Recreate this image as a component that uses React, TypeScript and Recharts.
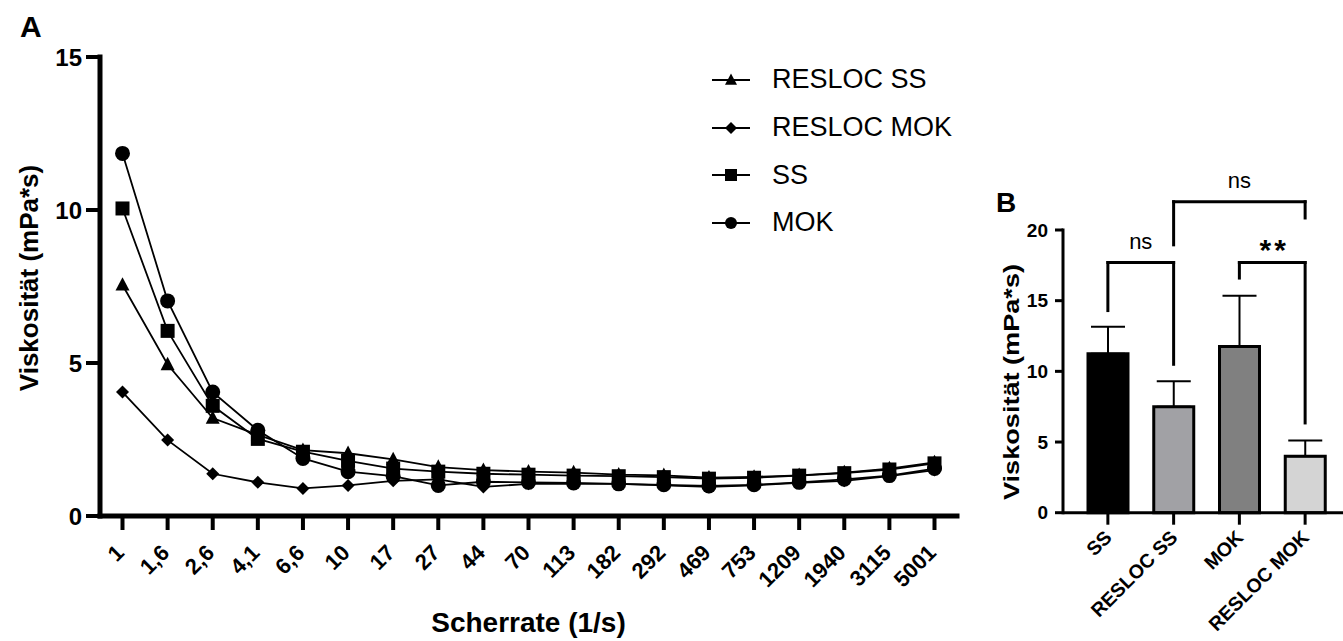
import React from 'react';
import {
  LineChart,
  Line,
  XAxis,
  YAxis,
  Legend,
  BarChart,
  Bar,
  Cell,
  ErrorBar,
  ReferenceLine,
} from 'recharts';

const FONT = '"Liberation Sans", Arial, Helvetica, sans-serif';

// ---- Panel A: viscosity over shear rate ----
const shearRates = ['1', '1,6', '2,6', '4,1', '6,6', '10', '17', '27', '44', '70', '113', '182', '292', '469', '753', '1209', '1940', '3115', '5001'];
const reslocSS = [7.55, 4.95, 3.2, 2.65, 2.15, 2.05, 1.85, 1.6, 1.5, 1.45, 1.42, 1.35, 1.33, 1.25, 1.28, 1.33, 1.42, 1.55, 1.75];
const reslocMOK = [4.05, 2.48, 1.38, 1.1, 0.9, 1.0, 1.15, 1.2, 0.95, 1.05, 1.05, 1.05, 1.0, 0.95, 1.0, 1.08, 1.15, 1.3, 1.5];
const ss = [10.05, 6.05, 3.6, 2.52, 2.1, 1.8, 1.55, 1.45, 1.38, 1.35, 1.32, 1.3, 1.27, 1.22, 1.25, 1.32, 1.4, 1.52, 1.72];
const mok = [11.85, 7.03, 4.05, 2.8, 1.88, 1.45, 1.3, 1.0, 1.12, 1.1, 1.08, 1.05, 1.02, 0.98, 1.02, 1.1, 1.2, 1.32, 1.55];
const viscosityTicksA = [0, 5, 10, 15];

// ---- Panel B: mean viscosity per group ----
const groups = ['SS', 'RESLOC SS', 'MOK', 'RESLOC MOK'];
const groupMeans = [11.25, 7.5, 11.75, 4.0];
const groupSD = [1.9, 1.8, 3.6, 1.1];
const groupFills = ['#000000', '#a1a1a5', '#808080', '#d4d4d4'];
const viscosityTicksB = [0, 5, 10, 15, 20];

// significance brackets: leg ends and bracket height in axis units
const brackets = [
  { from: 'SS', to: 'RESLOC SS', top: 17.7, fromEnd: 14.3, toEnd: 10.5, text: 'ns' },
  { from: 'RESLOC SS', to: 'RESLOC MOK', top: 22.0, fromEnd: 18.95, toEnd: 20.85, text: 'ns' },
  { from: 'MOK', to: 'RESLOC MOK', top: 17.7, fromEnd: 16.6, toEnd: 6.35, text: '**' },
];

const lineData = shearRates.map((rate, i) => ({
  rate,
  reslocSS: reslocSS[i],
  reslocMOK: reslocMOK[i],
  ss: ss[i],
  mok: mok[i],
}));

const barData = groups.map((name, i) => ({
  name,
  mean: groupMeans[i],
  err: [0, groupSD[i]],
  fill: groupFills[i],
}));

type Shape = 'triangle' | 'diamond' | 'square' | 'circle';

const Marker = ({ cx, cy, shape, size }: { cx: number; cy: number; shape: Shape; size: number }) => {
  const h = size / 2;
  if (cx == null || cy == null) return null;
  switch (shape) {
    case 'circle':
      return <circle cx={cx} cy={cy} r={h} fill="#000" />;
    case 'square':
      return <rect x={cx - h} y={cy - h} width={size} height={size} fill="#000" />;
    case 'triangle':
      return <path d={`M${cx},${cy - size * 0.55} L${cx + h},${cy + size * 0.4} L${cx - h},${cy + size * 0.4} Z`} fill="#000" />;
    case 'diamond':
    default:
      return <path d={`M${cx},${cy - h} L${cx + h},${cy} L${cx},${cy + h} L${cx - h},${cy} Z`} fill="#000" />;
  }
};

const makeDot = (shape: Shape, size: number) => (p: any) => (
  <g key={`${shape}-${p.index}`}>
    <Marker cx={p.cx} cy={p.cy} shape={shape} size={size} />
  </g>
);

const seriesA: { key: string; name: string; shape: Shape; size: number }[] = [
  { key: 'reslocSS', name: 'RESLOC SS', shape: 'triangle', size: 14 },
  { key: 'reslocMOK', name: 'RESLOC MOK', shape: 'diamond', size: 13 },
  { key: 'ss', name: 'SS', shape: 'square', size: 14 },
  { key: 'mok', name: 'MOK', shape: 'circle', size: 15 },
];

const renderLegend = () => (
  <div style={{ fontFamily: FONT, fontSize: 27, color: '#000' }}>
    {seriesA.map((s) => (
      <div key={s.key} style={{ display: 'flex', alignItems: 'center', height: 47.7 }}>
        <svg width={40} height={20} style={{ display: 'block' }}>
          <line x1={1} y1={10} x2={39} y2={10} stroke="#000" strokeWidth={2} />
          <Marker cx={20} cy={10} shape={s.shape} size={12} />
        </svg>
        <span style={{ marginLeft: 21, lineHeight: 1 }}>{s.name}</span>
      </div>
    ))}
  </div>
);

const RateTick = (props: any) => {
  const { x, y, payload } = props;
  const tx = x + 3;
  const ty = y + 22;
  return (
    <text x={tx} y={ty} transform={`rotate(-45 ${tx} ${ty})`} textAnchor="end" fontFamily={FONT} fontSize={22} fontWeight={700} fill="#000">
      {payload.value}
    </text>
  );
};

const GroupTick = (props: any) => {
  const { x, y, payload } = props;
  const tx = x + 5;
  const ty = y + 12;
  return (
    <text x={tx} y={ty} transform={`rotate(-45 ${tx} ${ty})`} textAnchor="end" fontFamily={FONT} fontSize={19.5} fontWeight={700} fill="#000">
      {payload.value}
    </text>
  );
};

const yLabelA = () => (
  <text x={29} y={278} transform="rotate(-90 29 278)" textAnchor="middle" dominantBaseline="central" fontFamily={FONT} fontSize={26} fontWeight={700} fill="#000">
    Viskosität (mPa*s)
  </text>
);

const xLabelA = () => (
  <text x={528.5} y={632} textAnchor="middle" fontFamily={FONT} fontSize={28} fontWeight={700} fill="#000">
    Scherrate (1/s)
  </text>
);

const yLabelB = () => (
  <text x={31} y={382} transform="rotate(-90 31 382)" textAnchor="middle" dominantBaseline="central" fontFamily={FONT} fontSize={22} fontWeight={700} fill="#000" textLength={236} lengthAdjust="spacingAndGlyphs">
    Viskosität (mPa*s)
  </text>
);

const bracketLabel = (text: string) => (props: any) => {
  const vb = props.viewBox || {};
  const cx = (vb.x ?? 0) + (vb.width ?? 0) / 2;
  const y = vb.y ?? 0;
  const star = text === '**';
  return (
    <text x={cx + (star ? 2 : 0)} y={star ? y - 3 : y - 14} textAnchor="middle" fontFamily={FONT} fontSize={star ? 30 : 22} fontWeight={star ? 700 : 400} letterSpacing={star ? 3 : 0} fill="#000">
      {text}
    </text>
  );
};

export default function App() {
  return (
    <div style={{ position: 'absolute', left: 0, top: 0, width: 1343, height: 641, background: '#fff', overflow: 'hidden' }}>
      <div style={{ position: 'absolute', left: 0, top: 0 }}>
        <LineChart width={980} height={641} data={lineData} margin={{ top: 57, right: 23, bottom: 0, left: 0 }}>
          <XAxis
            dataKey="rate"
            height={125}
            padding={{ left: 22.5, right: 22.5 }}
            interval={0}
            axisLine={{ stroke: '#000', strokeWidth: 5, strokeLinecap: 'square' }}
            tickLine={{ stroke: '#000', strokeWidth: 4 }}
            tickSize={14}
            tickMargin={2}
            tick={<RateTick />}
            label={{ content: xLabelA }}
          />
          <YAxis
            width={100}
            domain={[0, 15]}
            ticks={viscosityTicksA}
            interval={0}
            axisLine={{ stroke: '#000', strokeWidth: 5, strokeLinecap: 'square' }}
            tickLine={{ stroke: '#000', strokeWidth: 4 }}
            tickSize={14}
            tickMargin={4}
            tick={{ fontSize: 24, fontWeight: 700, fill: '#000', fontFamily: FONT }}
            label={{ content: yLabelA }}
          />
          {seriesA.map((s) => (
            <Line
              key={s.key}
              dataKey={s.key}
              name={s.name}
              type="linear"
              stroke="#000"
              strokeWidth={1.8}
              dot={makeDot(s.shape, s.size)}
              activeDot={false}
              isAnimationActive={false}
            />
          ))}
          <Legend
            layout="vertical"
            align="center"
            verticalAlign="middle"
            content={renderLegend}
            wrapperStyle={{ left: 711, top: 56, width: 260 }}
          />
        </LineChart>
      </div>

      <div style={{ position: 'absolute', left: 980, top: 0 }}>
        <BarChart width={363} height={641} data={barData} margin={{ top: 230, right: 0, bottom: 0, left: 0 }}>
          <XAxis
            dataKey="name"
            height={128.3}
            padding={{ left: 12, right: 5 }}
            interval={0}
            axisLine={{ stroke: '#000', strokeWidth: 3 }}
            tickLine={{ stroke: '#000', strokeWidth: 3 }}
            tickSize={12}
            tickMargin={2}
            tick={<GroupTick />}
          />
          <YAxis
            width={83}
            domain={[0, 20]}
            ticks={viscosityTicksB}
            interval={0}
            axisLine={{ stroke: '#000', strokeWidth: 3, strokeLinecap: 'square' }}
            tickLine={{ stroke: '#000', strokeWidth: 3 }}
            tickSize={8}
            tickMargin={7}
            tick={{ fontSize: 19, fontWeight: 700, fill: '#000', fontFamily: FONT }}
            label={{ content: yLabelB }}
          />
          <Bar dataKey="mean" barSize={40} stroke="#000" strokeWidth={3} isAnimationActive={false}>
            {barData.map((d) => (
              <Cell key={d.name} fill={d.fill} />
            ))}
            <ErrorBar dataKey="err" direction="y" width={17} strokeWidth={2} stroke="#000" />
          </Bar>
          {brackets.flatMap((b, i) => [
            <ReferenceLine
              key={`h${i}`}
              segment={[{ x: b.from, y: b.top }, { x: b.to, y: b.top }]}
              stroke="#000"
              strokeWidth={3}
              strokeLinecap="square"
              ifOverflow="visible"
              label={{ content: bracketLabel(b.text) }}
            />,
            <ReferenceLine
              key={`l${i}`}
              segment={[{ x: b.from, y: b.top }, { x: b.from, y: b.fromEnd }]}
              stroke="#000"
              strokeWidth={3}
              strokeLinecap="square"
              ifOverflow="visible"
            />,
            <ReferenceLine
              key={`r${i}`}
              segment={[{ x: b.to, y: b.top }, { x: b.to, y: b.toEnd }]}
              stroke="#000"
              strokeWidth={3}
              strokeLinecap="square"
              ifOverflow="visible"
            />,
          ])}
        </BarChart>
      </div>

      <svg width={1343} height={641} style={{ position: 'absolute', left: 0, top: 0, pointerEvents: 'none' }}>
        <text x={20} y={37} fontFamily={FONT} fontSize={30} fontWeight={700} fill="#000">A</text>
        <text x={996} y={212} fontFamily={FONT} fontSize={28} fontWeight={700} fill="#000">B</text>
      </svg>
    </div>
  );
}
